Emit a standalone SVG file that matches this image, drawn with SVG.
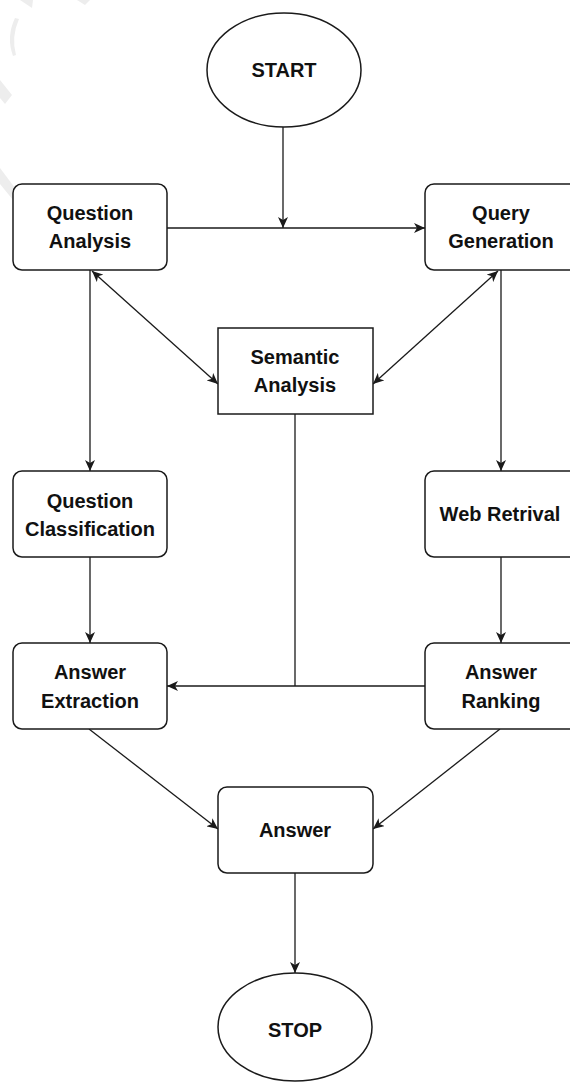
<svg xmlns="http://www.w3.org/2000/svg" width="570" height="1082" viewBox="0 0 570 1082">
  <style>
    .node { fill: #ffffff; stroke: #1a1a1a; stroke-width: 1.5; }
    .label { font-family: "Liberation Sans", Arial, sans-serif; font-weight: bold; font-size: 20px; fill: #111111; text-anchor: middle; }
    .edge { fill: none; stroke: #1a1a1a; stroke-width: 1.3; }
    .mark { fill: #ededed; stroke: none; }
  </style>
  <defs>
    <marker id="arrow" viewBox="0 0 11 10" markerWidth="11" markerHeight="10" refX="11" refY="5" orient="auto-start-reverse" markerUnits="userSpaceOnUse">
      <path d="M0,0 L11,5 L0,10 L3,5 Z" fill="#1a1a1a"/>
    </marker>
  </defs>

  <rect width="570" height="1082" fill="#ffffff"/>

  <!-- faint background marks, top left -->
  <g id="background-marks">
    <polygon class="mark" points="20,0 33,0 32,8"/>
    <polygon class="mark" points="77,0 90,0 85,5"/>
    <path class="mark" d="M15,18 Q6,37 13,56 L16,55 Q11,37 19,19 Z"/>
    <polygon class="mark" points="0,80 12,95 5,104 0,98"/>
    <polygon class="mark" points="0,168 18,192 13,200 0,184"/>
  </g>

  <!-- connectors -->
  <g id="connectors">
    <line class="edge" x1="283" y1="127" x2="283" y2="228" marker-end="url(#arrow)"/>
    <line class="edge" x1="167" y1="228" x2="425" y2="228" marker-end="url(#arrow)"/>
    <line class="edge" x1="90" y1="270" x2="90" y2="471" marker-end="url(#arrow)"/>
    <line class="edge" x1="501" y1="270" x2="501" y2="471" marker-end="url(#arrow)"/>
    <line class="edge" x1="92" y1="271" x2="218" y2="384" marker-start="url(#arrow)" marker-end="url(#arrow)"/>
    <line class="edge" x1="498" y1="271" x2="373" y2="384" marker-start="url(#arrow)" marker-end="url(#arrow)"/>
    <line class="edge" x1="90" y1="557" x2="90" y2="643" marker-end="url(#arrow)"/>
    <line class="edge" x1="501" y1="557" x2="501" y2="643" marker-end="url(#arrow)"/>
    <line class="edge" x1="425" y1="686" x2="167" y2="686" marker-end="url(#arrow)"/>
    <line class="edge" x1="295" y1="414" x2="295" y2="686"/>
    <line class="edge" x1="89" y1="729" x2="218" y2="829" marker-end="url(#arrow)"/>
    <line class="edge" x1="500" y1="729" x2="373" y2="829" marker-end="url(#arrow)"/>
    <line class="edge" x1="295" y1="873" x2="295" y2="973" marker-end="url(#arrow)"/>
  </g>

  <g id="start">
    <ellipse class="node" cx="284" cy="70" rx="77" ry="57"/>
    <text class="label" x="284" y="77">START</text>
  </g>

  <g id="question-analysis">
    <rect class="node" x="13" y="184" width="154" height="86" rx="9"/>
    <text class="label" x="90" y="220">Question</text>
    <text class="label" x="90" y="248">Analysis</text>
  </g>

  <g id="query-generation">
    <rect class="node" x="425" y="184" width="154" height="86" rx="9"/>
    <text class="label" x="501" y="220">Query</text>
    <text class="label" x="501" y="248">Generation</text>
  </g>

  <g id="semantic-analysis">
    <rect class="node" x="218" y="328" width="155" height="86"/>
    <text class="label" x="295" y="364">Semantic</text>
    <text class="label" x="295" y="392">Analysis</text>
  </g>

  <g id="question-classification">
    <rect class="node" x="13" y="471" width="154" height="86" rx="9"/>
    <text class="label" x="90" y="508">Question</text>
    <text class="label" x="90" y="536">Classification</text>
  </g>

  <g id="web-retrival">
    <rect class="node" x="425" y="471" width="154" height="86" rx="9"/>
    <text class="label" x="500" y="521">Web Retrival</text>
  </g>

  <g id="answer-extraction">
    <rect class="node" x="13" y="643" width="154" height="86" rx="9"/>
    <text class="label" x="90" y="679">Answer</text>
    <text class="label" x="90" y="708">Extraction</text>
  </g>

  <g id="answer-ranking">
    <rect class="node" x="425" y="643" width="154" height="86" rx="9"/>
    <text class="label" x="501" y="679">Answer</text>
    <text class="label" x="501" y="708">Ranking</text>
  </g>

  <g id="answer">
    <rect class="node" x="218" y="787" width="155" height="86" rx="9"/>
    <text class="label" x="295" y="837">Answer</text>
  </g>

  <g id="stop">
    <ellipse class="node" cx="295" cy="1027" rx="77" ry="54"/>
    <text class="label" x="295" y="1037">STOP</text>
  </g>
</svg>
